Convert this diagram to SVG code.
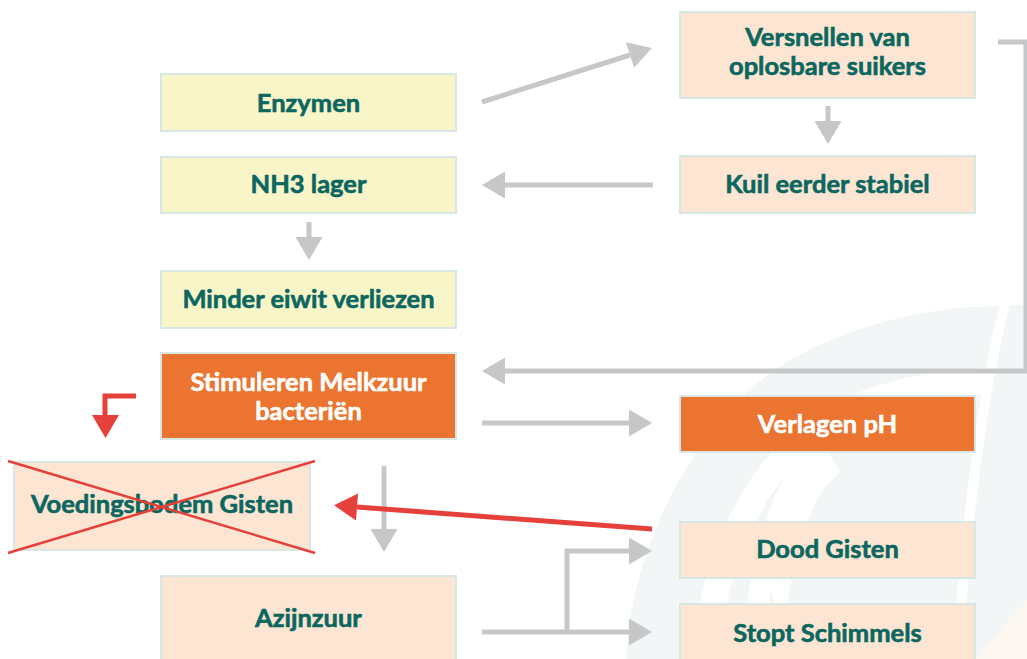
<svg xmlns="http://www.w3.org/2000/svg" width="1027" height="659" viewBox="0 0 1027 659">
<defs>
<style>
.bx{stroke:#d8e7e4;stroke-width:2}
.y{fill:#f8f5c9}
.p{fill:#fce5d2}
.o{fill:#ea7430}
.t{font-family:Lato,"Open Sans","Liberation Sans",sans-serif;font-weight:bold;font-size:25.5px;fill:#0b6660;stroke:#0b6660;stroke-width:0.6;text-anchor:middle}
.w{fill:#ffffff;stroke:#ffffff}
.g{fill:none;stroke:#c6c7c9;stroke-width:5;marker-end:url(#ga)}
.r{fill:none;stroke:#e5413a;stroke-width:5}
.x{stroke:#e5413a;stroke-width:2.5}
</style>
<marker id="ga" markerUnits="userSpaceOnUse" markerWidth="23" markerHeight="28" refX="0" refY="14" orient="auto" overflow="visible">
<path d="M0,0.5 L23,14 L0,27.5 Z" fill="#c6c7c9"/>
</marker>
<marker id="ra" markerUnits="userSpaceOnUse" markerWidth="23" markerHeight="28" refX="0" refY="14" orient="auto" overflow="visible">
<path d="M0,0.5 L23,14 L0,27.5 Z" fill="#e5413a"/>
</marker>
</defs>
<rect width="1027" height="659" fill="#ffffff"/>
<g id="watermark">
<path d="M627 659 C628 560 690 420 790 360 C860 320 940 306 1003 306 L1027 304 L1027 659 Z" fill="#f3f6f6"/>
<path d="M707 659 C710 560 760 460 830 420 C880 392 940 383 985 381" fill="none" stroke="#ffffff" stroke-width="26"/>
<path d="M1006 300 C985 380 965 520 958 659" fill="none" stroke="#ffffff" stroke-width="10"/>
<path d="M760 659 C770 560 790 480 830 455" fill="none" stroke="#ffffff" stroke-width="40"/>
<path d="M765 659 L770 590 L800 659 Z" fill="#fcf7f1"/>
<path d="M975 659 L1027 600 L1027 659 Z" fill="#fcf7f1"/>
</g>
<g id="connectors">
<path class="g" d="M482 102 L630 55"/>
<path class="g" d="M828 106 V121"/>
<path class="g" d="M653 185 H505"/>
<path class="g" d="M309 222 V237"/>
<path class="g" d="M998 42 H1026 V371 H505"/>
<path class="g" d="M482 423 H629"/>
<path class="g" d="M384 466 V529"/>
<path class="g" d="M482 632 H629"/>
<path class="g" d="M567 632 V551 H629"/>
<path class="r" d="M136 396 H105 V415"/>
<path d="M92 415 L119 415 L105.5 438 Z" fill="#e5413a"/>
<path class="r" d="M652 529 L357 507" marker-end="url(#ra)"/>
</g>
<g id="n-enzymen"><rect class="bx y" x="161" y="74" width="295" height="57"/><text class="t" x="308.5" y="112">Enzymen</text></g>
<g id="n-nh3"><rect class="bx y" x="161" y="157" width="295" height="56"/><text class="t" x="308.5" y="193">NH3 lager</text></g>
<g id="n-minder"><rect class="bx y" x="161" y="271" width="295" height="57"/><text class="t" x="308.5" y="308">Minder eiwit verliezen</text></g>
<g id="n-stimuleren"><rect class="bx o" x="161" y="353" width="295" height="86"/><text class="t w" x="308.5" y="391">Stimuleren Melkzuur</text><text class="t w" x="308.5" y="420">bacteriën</text></g>
<g id="n-azijnzuur"><rect class="bx p" x="161" y="576" width="295" height="92"/><text class="t" x="308.5" y="627">Azijnzuur</text></g>
<g id="n-voedingsbodem"><rect class="bx p" x="14" y="462" width="296" height="88"/><text class="t" x="162" y="513">Voedingsbodem Gisten</text><line class="x" x1="8" y1="461" x2="315" y2="553"/><line class="x" x1="8" y1="553" x2="315" y2="461"/></g>
<g id="n-versnellen"><rect class="bx p" x="680" y="12" width="295" height="86"/><text class="t" x="827.5" y="46">Versnellen van</text><text class="t" x="827.5" y="75">oplosbare suikers</text></g>
<g id="n-kuil"><rect class="bx p" x="680" y="156" width="295" height="57"/><text class="t" x="827.5" y="193">Kuil eerder stabiel</text></g>
<g id="n-verlagen"><rect class="bx o" x="680" y="396" width="295" height="56"/><text class="t w" x="827.5" y="433">Verlagen pH</text></g>
<g id="n-dood"><rect class="bx p" x="680" y="522" width="295" height="56"/><text class="t" x="827.5" y="558">Dood Gisten</text></g>
<g id="n-stopt"><rect class="bx p" x="680" y="604" width="295" height="64"/><text class="t" x="827.5" y="642">Stopt Schimmels</text></g>
</svg>
